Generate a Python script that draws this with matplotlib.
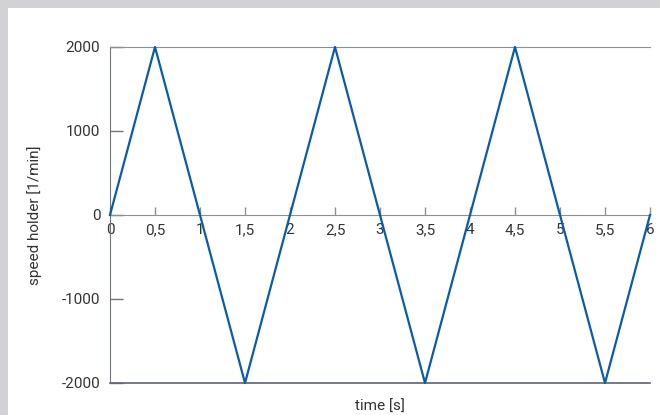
import matplotlib
matplotlib.use("Agg")
import matplotlib.pyplot as plt
from matplotlib.patches import Rectangle
from matplotlib.ticker import FuncFormatter

# triangle wave of the holder speed
time_s = [0, 0.5, 1.5, 2.5, 3.5, 4.5, 5.5, 6]
speed = [0, 2000, -2000, 2000, -2000, 2000, -2000, 0]
x_ticks = [0, 0.5, 1, 1.5, 2, 2.5, 3, 3.5, 4, 4.5, 5, 5.5, 6]
y_ticks = [-2000, -1000, 0, 1000, 2000]

plt.rcParams['font.family'] = ['Roboto', 'DejaVu Sans']
plt.rcParams['font.size'] = 11
plt.rcParams['axes.unicode_minus'] = False

fig = plt.figure(figsize=(6.6, 4.15), dpi=100)
fig.patch.set_facecolor('white')
# gray frame at the top and left edge
fig.patches.append(Rectangle((0, 1 - 8 / 415), 1, 8 / 415,
                             transform=fig.transFigure,
                             facecolor='#d2d2d6', edgecolor='none',
                             zorder=-10))
fig.patches.append(Rectangle((0, 0), 8 / 660, 1,
                             transform=fig.transFigure,
                             facecolor='#d2d2d6', edgecolor='none',
                             zorder=-10))

ax = fig.add_axes([110 / 660, 1 - 383 / 415, 540 / 660, 336 / 415])
ax.set_facecolor('none')

ax.plot(time_s, speed, color='#0a5ca8', linewidth=1.6, clip_on=False,
        zorder=3)

ax.set_xlim(0, 6)
ax.set_ylim(-2000, 2000)

ax.spines['right'].set_visible(False)
ax.spines['top'].set_color('#8b9095')
ax.spines['left'].set_color('#6e757c')
ax.spines['bottom'].set_position(('data', 0))
ax.spines['bottom'].set_color('#8b9095')
ax.axhline(-2000, color='#5a6470', linewidth=1.2, clip_on=False)

ax.set_xticks(x_ticks)
ax.xaxis.set_major_formatter(
    FuncFormatter(lambda v, p: ('%g' % v).replace('.', ',')))
ax.set_yticks(y_ticks)

ax.tick_params(axis='x', direction='in', length=5.5, width=1,
               color='#8b9095', pad=6, labelcolor='#333333')
ax.tick_params(axis='y', direction='in', length=9.5, width=1,
               color='#6e757c', pad=7, labelcolor='#333333')

ax.set_xlabel('time [s]', color='#333333')
ax.xaxis.set_label_coords(0.5, -0.05)
ax.set_ylabel('speed holder [1/min]', color='#333333')
ax.yaxis.set_label_coords(-0.125, 0.5)

fig.savefig('out.png', dpi=100)
